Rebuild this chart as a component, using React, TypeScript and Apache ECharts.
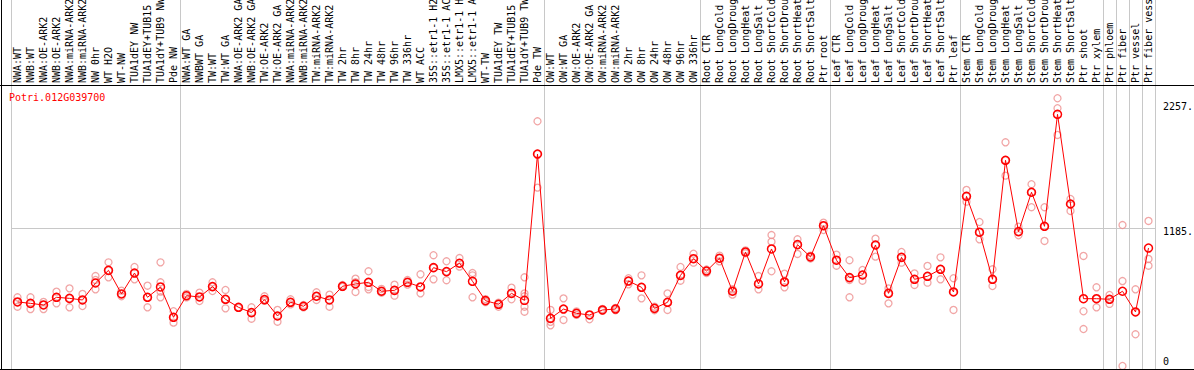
import React, { useEffect, useRef } from "react";
import * as echarts from "echarts";

const geneTitle = "Potri.012G039700";

const categories = [
  "NWA:WT", "NWB:WT", "NWA:OE-ARK2", "NWB:OE-ARK2", "NWA:miRNA-ARK2", "NWB:miRNA-ARK2", "NW 0hr", "WT H2O", "WT-NW", "TUA1dEY NW", "TUA1dEY+TUB15", "TUA1dY+TUB9 NW", "Pde NW",
  "NWA:WT GA", "NWBWT GA", "TW:WT", "TW:WT GA", "NWA:OE-ARK2 GA", "NWB:OE-ARK2 GA", "TW:OE-ARK2", "TW:OE-ARK2 GA", "NWA:miRNA-ARK2", "NWB:miRNA-ARK2", "TW:miRNA-ARK2", "TW:miRNA-ARK2", "TW 2hr", "TW 8hr", "TW 24hr", "TW 48hr", "TW 96hr", "TW 336hr", "WT ACC", "35S::etr1-1 H2", "35S::etr1-1 AC", "LMX5::etr1-1 H", "LMX5::etr1-1 A", "WT-TW", "TUA1dEY TW", "TUA1dEY+TUB15", "TUA1dY+TUB9 TW", "Pde TW",
  "OW:WT", "OW:WT GA", "OW:OE-ARK2", "OW:OE-ARK2 GA", "OW:miRNA-ARK2", "OW:miRNA-ARK2", "OW 2hr", "OW 8hr", "OW 24hr", "OW 48hr", "OW 96hr", "OW 336hr",
  "Root CTR", "Root LongCold", "Root LongDroug", "Root LongHeat", "Root LongSalt", "Root ShortCold", "Root ShortDrou", "Root ShortHeat", "Root ShortSalt", "Ptr root",
  "Leaf CTR", "Leaf LongCold", "Leaf LongDroug", "Leaf LongHeat", "Leaf LongSalt", "Leaf ShortCold", "Leaf ShortDrou", "Leaf ShortHeat", "Leaf ShortSalt", "Ptr leaf",
  "Stem CTR", "Stem LongCold", "Stem LongDroug", "Stem LongHeat", "Stem LongSalt", "Stem ShortCold", "Stem ShortDrou", "Stem ShortHeat", "Stem ShortSalt", "Ptr shoot", "Ptr xylem",
  "Ptr phloem", "Ptr fiber", "Ptr vessel", "Ptr fiber vess",
];

// category indices where a group separator line is drawn
const groupBoundaries = [0, 13, 41, 53, 63, 73, 84, 85, 86, 87, 88];

const meanValues = [
  551, 539, 525, 591, 582, 568, 714, 823, 620, 800,
  591, 680, 419, 605, 594, 683, 574, 505, 459, 571,
  430, 548, 514, 600, 568, 686, 706, 720, 643, 651,
  720, 680, 846, 812, 884, 729, 562, 531, 625, 565,
  1824, 410, 490, 453, 439, 482, 490, 731, 677, 496,
  548, 780, 923, 817, 927, 643, 981, 706, 1007, 723,
  1044, 938, 1207, 910, 760, 783, 1041, 625, 935, 746,
  772, 832, 637, 1460, 1151, 746, 1770, 1156, 1495, 1202,
  2166, 1394, 579, 579, 574, 643, 465, 1015,
];

const replicateValues = [
  [591, 551, 510], [591, 539, 490], [551, 525, 490], [640, 591, 539], [668, 582, 505],
  [620, 568, 516], [774, 740, 660], [892, 823, 763], [648, 620, 600], [852, 800, 746],
  [691, 591, 505], [892, 720, 640, 591], [471, 419, 373], [620, 605, 590], [631, 594, 559],
  [720, 683, 645], [654, 574, 496], [505, 500], [505, 459, 407], [600, 571, 560],
  [482, 430, 381], [574, 548, 530], [525, 514, 505], [634, 600, 568], [614, 568, 510],
  [697, 686, 680], [751, 706, 637, 720], [815, 720, 660, 680], [663, 643, 630], [700, 651, 605],
  [740, 720, 700], [789, 680, 625], [953, 846, 746], [901, 812, 738], [929, 884, 855],
  [800, 780, 591], [575, 562, 550], [545, 531, 510], [674, 625, 574], [763, 625, 600, 510, 467],
  [2106, 1824, 1535], [482, 410, 350, 380], [582, 490, 396], [470, 453, 440], [439, 402],
  [490, 482, 475], [500, 490, 480], [755, 731, 703], [780, 677, 582], [510, 496, 480],
  [625, 548, 482], [852, 780, 734], [966, 923, 889], [830, 817, 800], [950, 927, 900],
  [660, 643, 614], [995, 981, 970], [774, 706, 660], [1127, 1070, 815], [794, 723, 677],
  [1090, 1044, 964], [950, 938, 925], [1233, 1207, 1170], [958, 910, 863], [910, 760, 591, 740],
  [826, 783, 734], [1096, 1041, 941], [668, 625, 539], [981, 935, 889], [797, 746, 697],
  [861, 772, 717], [935, 832, 746], [755, 637, 482], [1515, 1460, 1414], [1239, 1151, 1090],
  [832, 746, 688], [1925, 1770, 1638], [1199, 1156, 1125], [1564, 1495, 1366], [1366, 1202, 1076],
  [2304, 2218, 1988], [1437, 1394, 1334], [947, 471, 318], [677, 579, 505], [611, 574, 534],
  [1213, 731, 0], [660, 465, 273], [1248, 921, 863],
];

const yTickValues = [0, 1185, 2257];
const gridLineValue = 1185;

const FONT = "'DejaVu Sans Mono', monospace";

export default function App() {
  const ref = useRef<HTMLDivElement>(null);

  useEffect(() => {
    document.body.style.margin = "0";
    if (!ref.current) return;
    const chart = echarts.init(ref.current, undefined, { renderer: "svg" });

    const repData: number[][] = [];
    replicateValues.forEach((arr, i) => arr.forEach((v) => repData.push([i, v])));

    const splitLine = {
      show: true,
      interval: (i: number) => groupBoundaries.includes(i),
      lineStyle: { color: "#c8c8c8", width: 1 },
    };

    chart.setOption({
      animation: false,
      backgroundColor: "#ffffff",
      title: {
        text: geneTitle,
        left: 9,
        top: 92,
        padding: 0,
        textStyle: { color: "#ff0000", fontFamily: FONT, fontSize: 10, fontWeight: "normal" },
      },
      grid: [
        { left: 11, right: 39, top: 85, bottom: 1, containLabel: false, outerBoundsMode: "none" },
        { left: 11, right: 39, top: 0, height: 85, containLabel: false, outerBoundsMode: "none" },
      ],
      xAxis: [
        {
          gridIndex: 0,
          type: "category",
          data: categories,
          position: "top",
          boundaryGap: true,
          axisLine: { show: true, onZero: false, lineStyle: { color: "#000", width: 1 } },
          axisTick: { show: false },
          axisLabel: {
            interval: 0,
            rotate: -90,
            margin: 2,
            hideOverlap: false,
            fontFamily: FONT,
            fontSize: 10,
            color: "#000",
          },
          splitLine,
        },
        {
          gridIndex: 1,
          type: "category",
          data: categories,
          position: "bottom",
          boundaryGap: true,
          axisLine: { show: false },
          axisTick: { show: false },
          axisLabel: { show: false },
          splitLine,
        },
      ],
      yAxis: [
        {
          gridIndex: 0,
          type: "value",
          position: "right",
          min: -26,
          max: 2418,
          axisLine: { show: false },
          axisTick: { show: false },
          splitLine: { show: false },
          axisLabel: {
            customValues: yTickValues,
            margin: 8,
            fontFamily: FONT,
            fontSize: 10,
            color: "#000",
            formatter: (v: number) => (v === 0 ? "{z|0}" : "{n|" + v + ".}"),
            rich: {
              z: { padding: [0, 0, 8, 0], fontFamily: FONT, fontSize: 10, color: "#000" },
              n: { padding: [6, 0, 0, 0], fontFamily: FONT, fontSize: 10, color: "#000" },
            },
          },
        },
        {
          gridIndex: 1,
          type: "value",
          min: 0,
          max: 1,
          axisLine: { show: false },
          axisTick: { show: false },
          axisLabel: { show: false },
          splitLine: { show: false },
        },
      ],
      graphic: [
        { type: "line", shape: { x1: 1.5, y1: 0, x2: 1.5, y2: 370 }, style: { stroke: "#000", lineWidth: 1 }, z: 100 },
        { type: "line", shape: { x1: 0, y1: 85.5, x2: 1194, y2: 85.5 }, style: { stroke: "#000", lineWidth: 1 }, z: 100 },
        { type: "line", shape: { x1: 0, y1: 369.5, x2: 1194, y2: 369.5 }, style: { stroke: "#000", lineWidth: 1 }, z: 100 },
      ],
      series: [
        {
          type: "scatter",
          xAxisIndex: 0,
          yAxisIndex: 0,
          data: repData,
          symbol: "circle",
          symbolSize: 7,
          itemStyle: { color: "rgba(0,0,0,0)", borderColor: "#ee9090", borderWidth: 1.3 },
          z: 2,
          silent: true,
        },
        {
          type: "line",
          xAxisIndex: 0,
          yAxisIndex: 0,
          data: meanValues,
          symbol: "circle",
          symbolSize: 8,
          lineStyle: { color: "#ff0000", width: 1 },
          itemStyle: { color: "rgba(0,0,0,0)", borderColor: "#ff0000", borderWidth: 1.5 },
          z: 3,
          markLine: {
            silent: true,
            symbol: ["none", "none"],
            label: { show: false },
            lineStyle: { color: "#c8c8c8", type: "solid", width: 1 },
            data: [{ yAxis: gridLineValue }],
            z: 1,
          },
        },
      ],
    });

    return () => chart.dispose();
  }, []);

  return <div ref={ref} style={{ width: 1194, height: 370 }} />;
}
